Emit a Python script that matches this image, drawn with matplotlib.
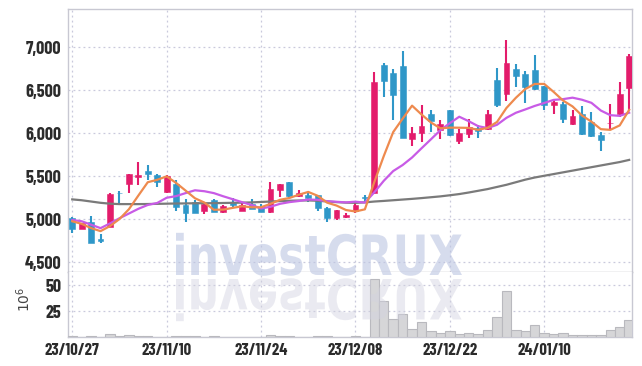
import matplotlib
matplotlib.use("Agg")
import matplotlib.pyplot as plt
import numpy as np
from matplotlib.textpath import TextPath
from matplotlib.patches import PathPatch
from matplotlib.font_manager import FontProperties
from matplotlib.transforms import Affine2D

# tick labels (trading-day index -> date)
tick_pos = [0, 10, 20, 30, 40, 50]
tick_labels = ["23/10/27", "23/11/10", "23/11/24", "23/12/08", "23/12/22", "24/01/10"]

opens = [5010, 4890, 4962, 4770, 4903, 5310, 5407, 5495, 5560, 5510,
         5316, 5407, 5163, 5205, 5100, 5221, 5085, 5186, 5093, 5178,
         5143, 5085, 5345, 5427, 5271, 5283, 5280, 5124, 5016, 5027,
         5097, 5260, 5300, 6790, 6700, 6783, 5938, 6004, 6229, 6042,
         6267, 5911, 5996, 6066, 6046, 6616, 6462, 6744, 6686, 6733,
         6547, 6329, 6337, 6113, 6221, 6132, 5977, 6115, 6221, 6527]
highs = [5025, 4955, 5035, 4830, 5310, 5330, 5525, 5665, 5628, 5530,
         5510, 5453, 5233, 5228, 5190, 5240, 5165, 5250, 5205, 5240,
         5174, 5427, 5410, 5427, 5337, 5310, 5280, 5143, 5105, 5070,
         5201, 5280, 6713, 6815, 6752, 6960, 6073, 6325, 6275, 6151,
         6270, 6050, 6170, 6100, 6267, 6764, 7089, 6810, 6725, 6907,
         6550, 6392, 6360, 6275, 6314, 6248, 6016, 6345, 6597, 6927]
lows = [4840, 4880, 4718, 4718, 4903, 5180, 5310, 5400, 5460, 5380,
        5310, 5097, 4962, 5077, 5054, 5081, 5070, 5143, 5093, 5116,
        5085, 5070, 5260, 5240, 5252, 5201, 5097, 4962, 4988, 5015,
        5066, 5186, 5290, 6418, 6160, 5940, 5849, 5899, 6016, 5938,
        5970, 5872, 5950, 5950, 6034, 6306, 6372, 6539, 6353, 6500,
        6267, 6221, 6124, 6100, 5980, 5960, 5795, 6054, 6186, 6267]
closes = [4890, 4950, 4718, 4745, 5290, 5300, 5523, 5510, 5525, 5430,
          5500, 5143, 5066, 5077, 5178, 5081, 5151, 5170, 5170, 5116,
          5085, 5349, 5407, 5271, 5310, 5248, 5124, 5008, 5101, 5050,
          5163, 5250, 6597, 6608, 6450, 5946, 6008, 6081, 6143, 6112,
          5985, 6004, 6073, 6027, 6229, 6325, 6822, 6667, 6539, 6520,
          6325, 6360, 6163, 6198, 5989, 5969, 5919, 6125, 6457, 6895]

ma5 = [4975, 4945, 4895, 4860, 4919, 5001, 5115, 5274, 5430, 5458,
       5498, 5422, 5333, 5243, 5193, 5109, 5111, 5131, 5150, 5138,
       5138, 5178, 5225, 5246, 5284, 5317, 5272, 5192, 5158, 5106,
       5089, 5114, 5432, 5734, 6014, 6170, 6322, 6219, 6126, 6058,
       6066, 6065, 6063, 6040, 6064, 6132, 6295, 6414, 6516, 6575,
       6575, 6482, 6381, 6313, 6207, 6136, 6048, 6040, 6092, 6273]
ma10 = [4990, 4975, 4935, 4895, 4950, 5010, 5065, 5120, 5165, 5188,
        5249, 5268, 5303, 5336, 5325, 5303, 5266, 5232, 5197, 5165,
        5124, 5144, 5178, 5198, 5211, 5228, 5225, 5209, 5202, 5195,
        5203, 5193, 5312, 5446, 5560, 5630, 5718, 5825, 5930, 6036,
        6118, 6193, 6141, 6083, 6061, 6099, 6180, 6239, 6278, 6319,
        6353, 6389, 6398, 6415, 6391, 6355, 6265, 6211, 6203, 6240]
ma_long = [5230, 5220, 5205, 5190, 5180, 5175, 5175, 5175, 5176, 5178,
           5180, 5182, 5183, 5185, 5185, 5186, 5188, 5190, 5192, 5195,
           5200, 5205, 5210, 5214, 5217, 5218, 5214, 5206, 5198, 5192,
           5190, 5195, 5205, 5212, 5220, 5228, 5236, 5245, 5255, 5265,
           5278, 5292, 5310, 5330, 5350, 5375, 5400, 5430, 5460, 5485,
           5505, 5525, 5545, 5565, 5585, 5605, 5625, 5645, 5665, 5690]

volumes = [1.0, 0.4, 1.0, 0.3, 2.5, 1.2, 1.6, 1.4, 0.5, 0.4,
           0.3, 0.9, 1.0, 0.9, 0.4, 1.0, 0.3, 0.3, 0.4, 0.3,
           0.3, 1.8, 1.2, 1.0, 0.3, 0.3, 1.0, 1.0, 0.3, 0.3,
           0.9, 0.4, 56.7, 34.5, 17.0, 22.0, 7.6, 15.0, 5.4, 3.5,
           5.4, 2.5, 3.5, 2.8, 6.6, 19.0, 44.6, 6.6, 5.7, 11.4,
           3.8, 2.5, 3.5, 2.2, 2.2, 2.2, 2.2, 6.6, 9.8, 16.0]

UP = "#e31c6b"
DOWN = "#2f97c8"
GRID = "#c9c9dc"
FRAME = "#c8c8d2"
TXT = "#2b2b2b"

label_font = ["Barlow Condensed", "Asap Condensed", "DejaVu Sans"]

fig = plt.figure(figsize=(6.42, 3.66), dpi=100)
ax = fig.add_axes([68 / 642, 1 - 272 / 366, 564 / 642, 263 / 366])
axv = fig.add_axes([68 / 642, 1 - 337 / 366, 564 / 642, 65 / 366], sharex=ax)

x = np.arange(len(closes))
o = np.array(opens)
c = np.array(closes)
colors = [UP if cc >= oo else DOWN for oo, cc in zip(o, c)]

# candles: wicks then bodies
ax.vlines(x, lows, highs, colors=colors, linewidth=1.5, zorder=3)
ax.bar(x, np.maximum(np.abs(c - o), 8), bottom=np.minimum(o, c), width=0.62,
       color=colors, edgecolor=colors, linewidth=0.4, zorder=4)

ax.plot(x, ma_long, color="#7a7a7a", linewidth=1.6, zorder=5)
ax.plot(x, ma10, color="#c85be6", linewidth=1.6, zorder=5)
ax.plot(x, ma5, color="#ee8a4e", linewidth=1.6, zorder=6)

ax.set_xlim(-0.45, 59.3)
ax.set_ylim(4384, 7448)
ax.set_yticks([4500, 5000, 5500, 6000, 6500, 7000])
ax.set_yticklabels(["4,500", "5,000", "5,500", "6,000", "6,500", "7,000"])
ax.set_xticks(tick_pos)
ax.grid(True, color=GRID, linestyle=(0, (1.5, 2.5)), linewidth=0.9)
ax.tick_params(axis="both", length=0, labelbottom=False)
ax.tick_params(axis="y", pad=5, labelsize=13, labelcolor=TXT)
for t in ax.get_yticklabels():
    t.set_fontfamily(label_font)
    t.set_fontweight("bold")
for s in ax.spines.values():
    s.set_color(FRAME)
    s.set_linewidth(1.0)
ax.spines["bottom"].set_color("#b8b8c0")

axv.bar(x, volumes, width=1.0, color="#d6d6d8", edgecolor="#b9b9be",
        linewidth=0.8, zorder=3)
axv.set_ylim(0, 63)
axv.set_yticks([25, 50])
axv.set_yticklabels(["25", "50"])
axv.set_xticks(tick_pos)
axv.set_xticklabels(tick_labels)
axv.grid(True, color=GRID, linestyle=(0, (1.5, 2.5)), linewidth=0.9)
axv.tick_params(axis="both", length=0, labelcolor=TXT)
axv.tick_params(axis="y", pad=5, labelsize=13)
axv.tick_params(axis="x", pad=4, labelsize=12)
for t in axv.get_yticklabels() + axv.get_xticklabels():
    t.set_fontfamily(label_font)
    t.set_fontweight("bold")
for s in axv.spines.values():
    s.set_color(FRAME)
    s.set_linewidth(1.0)
axv.spines["top"].set_visible(False)
axv.set_ylabel(r"$10^6$", fontsize=10, color="#444444")
axv.yaxis.set_label_coords(-0.062, 0.58)

# watermark and its mirrored reflection (pixel coordinates)
wm_prop = FontProperties(family="DejaVu Sans", weight="bold")
tp = TextPath((0, 0), "investCRUX", size=1, prop=wm_prop)
bb = tp.get_extents()
sx = 286 / bb.width
sy = 42 / TextPath((0, 0), "C", size=1, prop=wm_prop).get_extents().height
base = 366 - 275
wm = PathPatch(tp, transform=Affine2D().translate(-bb.x0, 0).scale(sx, sy).translate(176, base),
               facecolor="#bcc5e2", edgecolor="none", alpha=0.6, zorder=10)
refl = PathPatch(tp, transform=Affine2D().translate(-bb.x0, 0).scale(sx, -sy).translate(176, base - 4),
                 facecolor="#d2d2e0", edgecolor="none", alpha=0.45, zorder=10)
fig.add_artist(wm)
fig.add_artist(refl)

fig.savefig("out.png", dpi=100)
